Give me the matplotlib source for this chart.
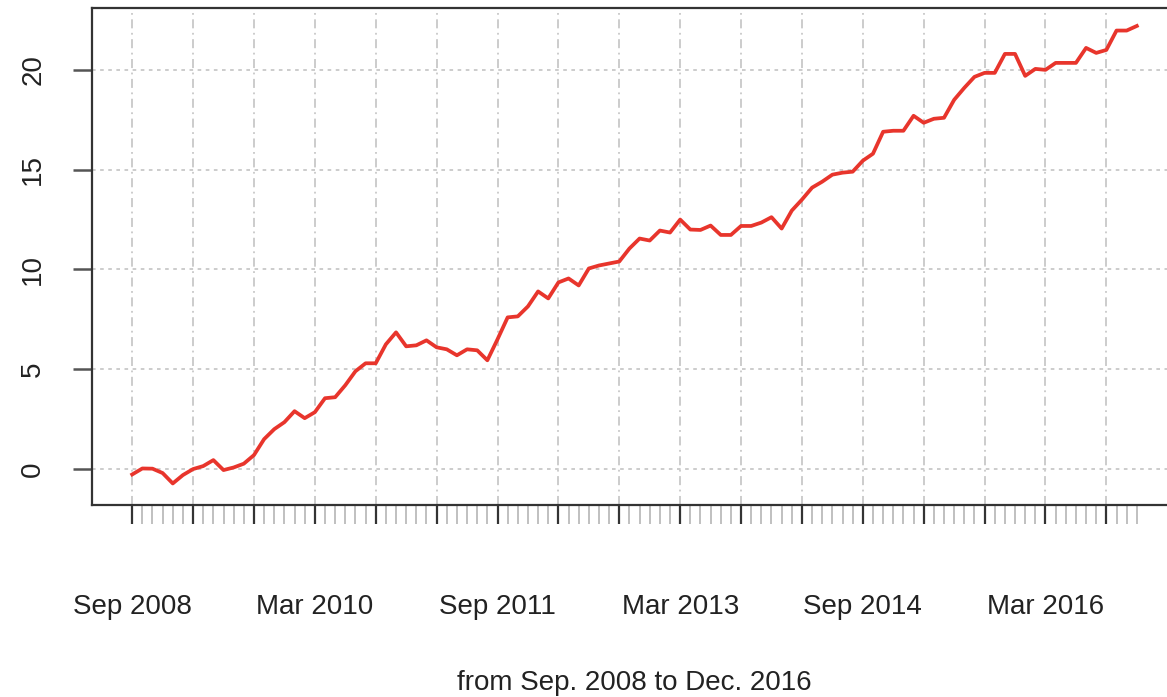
import numpy as np
import pandas as pd
import matplotlib
matplotlib.use('Agg')
import matplotlib.pyplot as plt
from matplotlib.ticker import FixedLocator, FixedFormatter

plt.rcParams['font.family'] = ['Liberation Sans', 'DejaVu Sans']

# monthly series, Sep 2008 .. Dec 2016
months = pd.period_range('2008-09', '2016-12', freq='M')
values = [
    -0.27, 0.03, 0.02, -0.20, -0.72, -0.30, 0.00, 0.15, 0.45, -0.05,
    0.08, 0.27, 0.70, 1.50, 2.00, 2.35, 2.90, 2.55, 2.85, 3.55,
    3.60, 4.20, 4.90, 5.30, 5.30, 6.25, 6.85, 6.15, 6.20, 6.45,
    6.10, 6.00, 5.70, 6.00, 5.95, 5.45, 6.50, 7.60, 7.65, 8.15,
    8.90, 8.55, 9.35, 9.55, 9.20, 10.05, 10.20, 10.30, 10.40, 11.05,
    11.55, 11.45, 11.95, 11.85, 12.50, 12.00, 11.98, 12.20, 11.73, 11.73,
    12.18, 12.18, 12.35, 12.62, 12.05, 12.95, 13.50, 14.10, 14.40, 14.75,
    14.85, 14.90, 15.45, 15.80, 16.90, 16.95, 16.95, 17.70, 17.35, 17.55,
    17.60, 18.50, 19.10, 19.65, 19.85, 19.85, 20.80, 20.80, 19.70, 20.05,
    20.00, 20.35, 20.35, 20.35, 21.10, 20.85, 21.00, 21.97, 21.97, 22.20,
]
x = np.arange(len(months))

major_idx = list(range(0, len(months), 6))
label_idx = list(range(0, len(months), 18))
major_labels = [months[i].strftime('%b %Y') if i in label_idx else '' for i in major_idx]
yticks = [0, 5, 10, 15, 20]

W, H = 1167, 697
fig = plt.figure(figsize=(W / 100, H / 100), dpi=100)
ax = fig.add_axes([92 / W, 192 / H, 1085 / W, 497 / H])

grid_col = '#c8c8c8'
for i in major_idx:
    ax.axvline(i, color=grid_col, lw=1.3, ls=(0, (5, 2.5, 1, 2.5)), zorder=0)
for v in yticks:
    ax.axhline(v, color=grid_col, lw=1.3, ls=(0, (2, 2.5)), zorder=0)

ax.plot(x, values, color='#e8352c', lw=2.7, zorder=3)

ax.set_xlim(-3.96, len(months) - 1 + 3.96)
ax.set_ylim(-1.8, 23.1)

ax.xaxis.set_major_locator(FixedLocator(major_idx))
ax.xaxis.set_major_formatter(FixedFormatter(major_labels))
ax.xaxis.set_minor_locator(FixedLocator([i for i in x if i not in major_idx]))
ax.tick_params(axis='x', which='major', length=14, width=1.6, color='#333333',
               labelsize=20, pad=50, labelcolor='#222222')
ax.tick_params(axis='x', which='minor', length=14, width=1.2, color='#b5b5b5')

ax.set_yticks(yticks)
ax.set_yticklabels([str(v) for v in yticks], rotation=90, va='center')
ax.tick_params(axis='y', length=14, width=1.8, color='#555555',
               labelsize=20, pad=19, labelcolor='#222222')

for s in ax.spines.values():
    s.set_linewidth(1.6)
    s.set_color('#333333')

ax.set_xlabel('from Sep. 2008 to Dec. 2016', fontsize=20, color='#222222', labelpad=36)

fig.savefig('out.png', dpi=100)
